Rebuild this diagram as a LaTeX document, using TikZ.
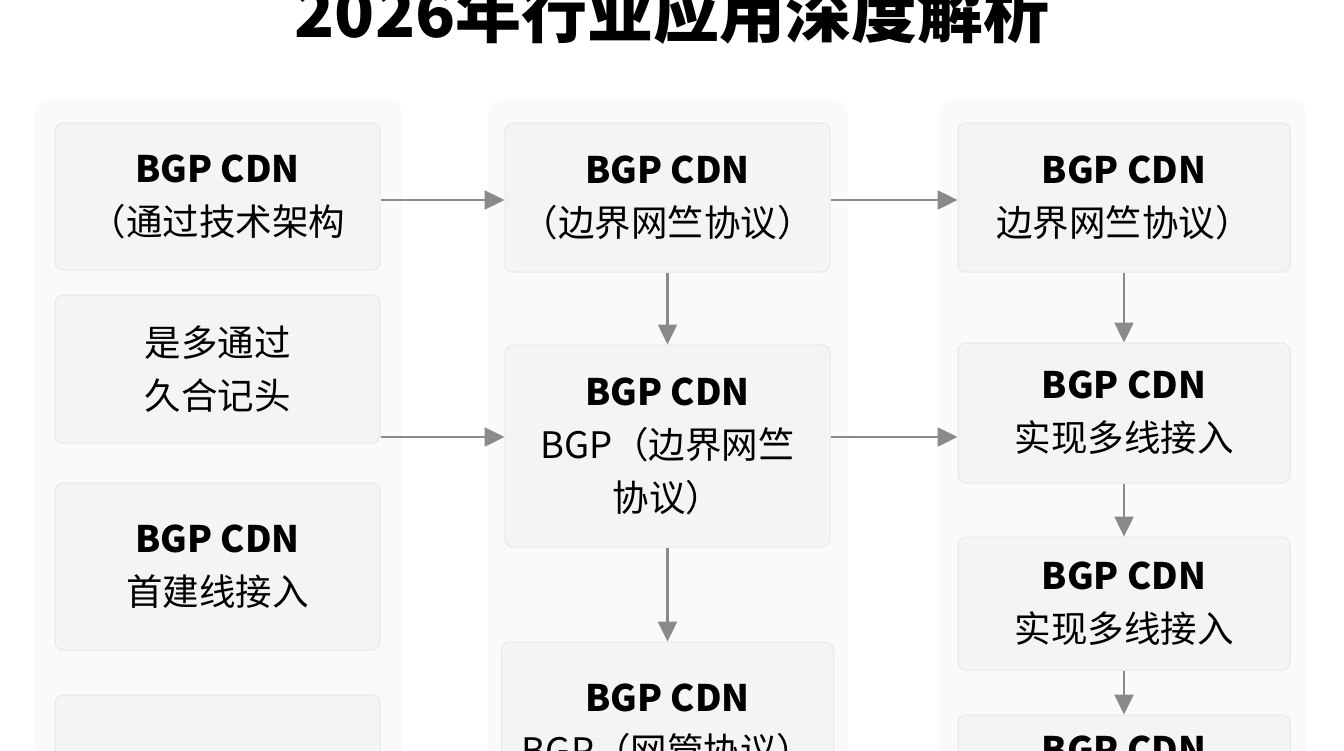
\documentclass[tikz,border=0pt]{standalone}
\usepackage{fontspec}
\setmainfont{Noto Sans CJK SC}
\usetikzlibrary{arrows.meta}
\definecolor{boxfill}{HTML}{F3F4F6}
\definecolor{boxline}{HTML}{E6E7EA}
\definecolor{panel}{HTML}{FAFAFB}
\definecolor{arr}{HTML}{8A8A8A}
\begin{document}
\begin{tikzpicture}[x=1pt,y=-1pt,
  box/.style={draw=boxline,line width=1pt,fill=boxfill,rounded corners=8pt,align=center,inner sep=0pt,
    font=\fontsize{36.5}{53}\selectfont},
  conn/.style={draw=arr,line width=2.5pt,-{Triangle[length=20pt,width=19pt]}},
  pan/.style={fill=panel,rounded corners=14pt}]
\useasboundingbox (0,0) rectangle (1344,750);
\clip (0,0) rectangle (1344,750);
\fill[white] (0,0) rectangle (1344,750);
\fill[pan] (35,100) rectangle (402,900);
\fill[pan] (488,100) rectangle (848,900);
\fill[pan] (940,100) rectangle (1306,900);
\node[font=\fontsize{66}{66}\selectfont\bfseries] (title) at (672,12) {2026年行业应用深度解析};
% column 1
\node[box,minimum width=325pt,minimum height=147pt] (a1) at (217.5,196.5) {\textbf{BGP CDN}\\（通过技术架构};
\node[box,minimum width=325pt,minimum height=148pt] (a2) at (217.5,369) {是多通过\\久合记头};
\node[box,minimum width=325pt,minimum height=167pt] (a3) at (217.5,566.5) {\textbf{BGP CDN}\\首建线接入};
\node[box,minimum width=325pt,minimum height=150pt] (a4) at (217.5,770) {};
% column 2
\node[box,minimum width=325pt,minimum height=149pt] (b1) at (667.5,197.5) {\textbf{BGP CDN}\\（边界网竺协议）};
\node[box,minimum width=325pt,minimum height=202pt] (b2) at (667.5,446) {\textbf{BGP CDN}\\BGP（边界网竺\\协议）};
\node[box,minimum width=332pt,minimum height=168pt] (b3) at (667.5,726) {\textbf{BGP CDN}\\BGP（网管协议）};
% column 3
\node[box,minimum width=332pt,minimum height=149pt] (c1) at (1124,197.5) {\textbf{BGP CDN}\\边界网竺协议）};
\node[box,minimum width=332pt,minimum height=140pt] (c2) at (1124,413) {\textbf{BGP CDN}\\实现多线接入};
\node[box,minimum width=332pt,minimum height=133pt] (c3) at (1124,603.5) {\textbf{BGP CDN}\\实现多线接入};
\node[box,minimum width=332pt,minimum height=126pt] (c4) at (1124,778) {\textbf{BGP CDN}\\实现多线接入};
% connectors
\draw[conn] (a1.east |- 0,200) -- (b1.west |- 0,200);
\draw[conn] (b1.east |- 0,200) -- (c1.west |- 0,200);
\draw[conn] (a2.east |- 0,437) -- (b2.west |- 0,437);
\draw[conn] (b2.east |- 0,437) -- (c2.west |- 0,437);
\draw[conn] (b1) -- (b2);
\draw[conn] (b2) -- (b3);
\draw[conn] (c1) -- (c2);
\draw[conn] (c2) -- (c3);
\draw[conn] (c3) -- (c4);
\end{tikzpicture}
\end{document}
